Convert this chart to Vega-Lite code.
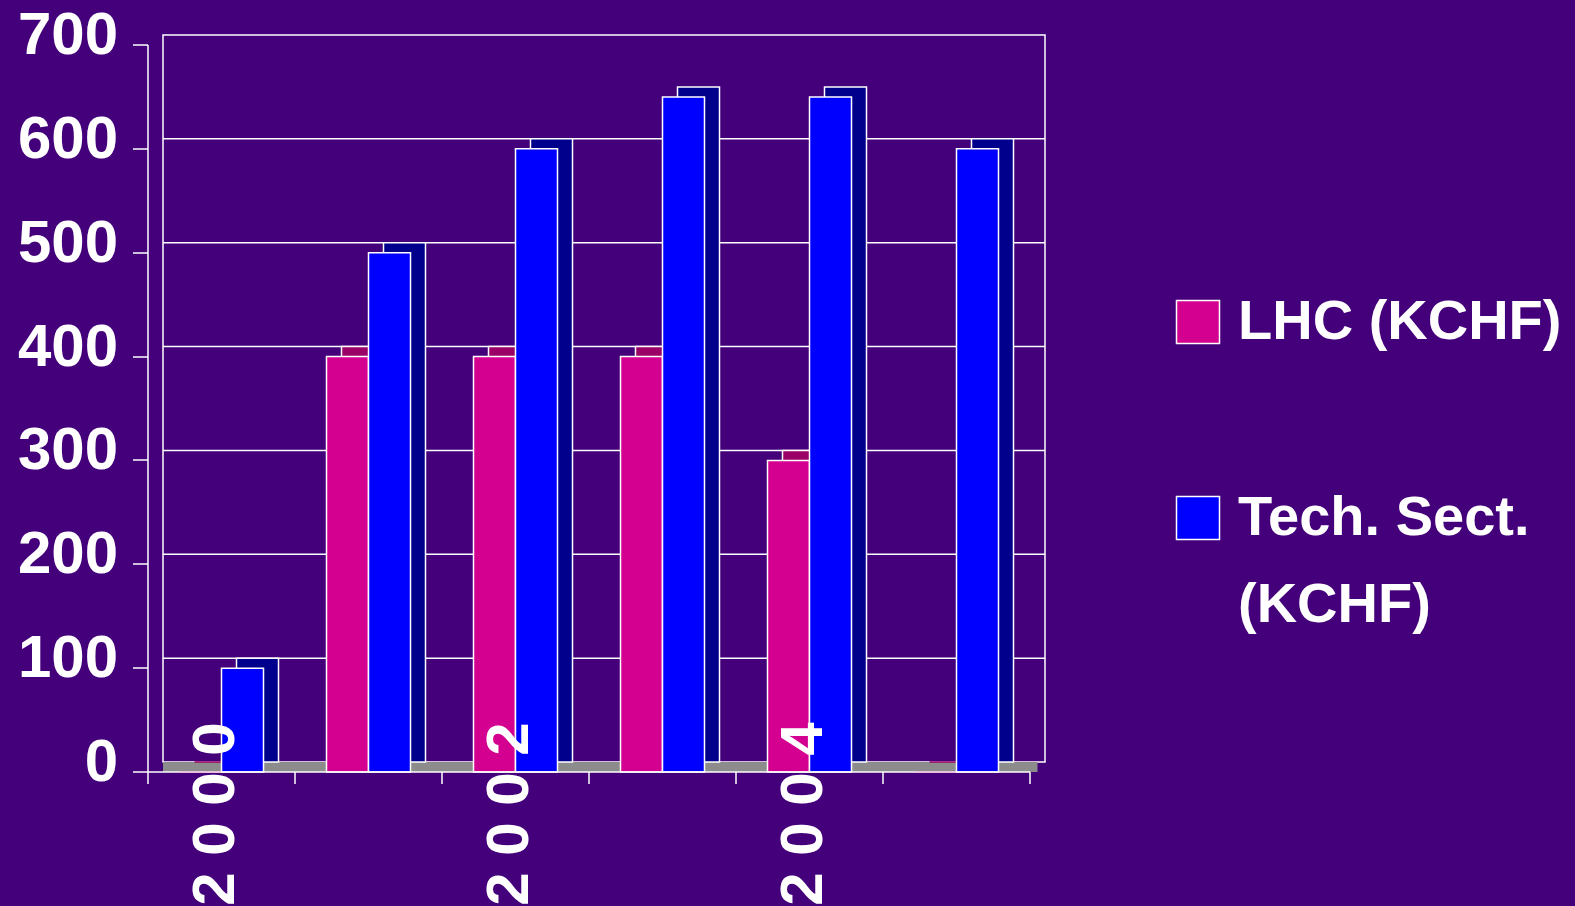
{
  "$schema": "https://vega.github.io/schema/vega-lite/v6.json",
  "autosize": {"type": "none"},
  "width": 882,
  "height": 727,
  "padding": {"left": 163, "top": 35, "right": 530, "bottom": 144},
  "background": "#43007a",
  "datasets": {
    "budget": [
      {"year": "2000", "series": "LHC (KCHF)", "value": 0},
      {"year": "2000", "series": "Tech. Sect. (KCHF)", "value": 100},
      {"year": "2001", "series": "LHC (KCHF)", "value": 400},
      {"year": "2001", "series": "Tech. Sect. (KCHF)", "value": 500},
      {"year": "2002", "series": "LHC (KCHF)", "value": 400},
      {"year": "2002", "series": "Tech. Sect. (KCHF)", "value": 600},
      {"year": "2003", "series": "LHC (KCHF)", "value": 400},
      {"year": "2003", "series": "Tech. Sect. (KCHF)", "value": 650},
      {"year": "2004", "series": "LHC (KCHF)", "value": 300},
      {"year": "2004", "series": "Tech. Sect. (KCHF)", "value": 650},
      {"year": "2005", "series": "LHC (KCHF)", "value": 0},
      {"year": "2005", "series": "Tech. Sect. (KCHF)", "value": 600}
    ],
    "grid": [
      {"value": 100}, {"value": 200}, {"value": 300},
      {"value": 400}, {"value": 500}, {"value": 600}
    ],
    "floor": [{"value": 0}]
  },
  "encoding": {
    "y": {
      "field": "value", "type": "quantitative",
      "scale": {"domain": [0, 700]},
      "axis": {
        "title": null, "grid": false,
        "values": [0, 100, 200, 300, 400, 500, 600, 700],
        "domainColor": "white", "domainWidth": 1.5,
        "tickColor": "white", "tickWidth": 1.5, "tickSize": 15,
        "labelColor": "white", "labelFont": "Liberation Sans", "labelFontWeight": "bold", "labelFontSize": 60,
        "labelPadding": 15, "labelOffset": -9, "labelBaseline": "middle",
        "offset": 25, "translate": 10
      }
    }
  },
  "layer": [
    {
      "data": {"name": "floor"},
      "mark": {"type": "rule", "color": "#8c8c8c", "strokeWidth": 10, "yOffset": 5, "xOffset": -7.5},
      "encoding": {}
    },
    {
      "data": {"name": "grid"},
      "mark": {"type": "rule", "color": "white", "strokeWidth": 1.5},
      "encoding": {}
    },
    {
      "data": {"name": "budget"},
      "mark": {"type": "bar", "strokeWidth": 1.5},
      "encoding": {
        "x": {"field": "year", "type": "nominal", "scale": {"paddingInner": 0, "paddingOuter": 0},
          "axis": {
            "title": null, "grid": false,
            "domainColor": "white", "domainWidth": 1.5,
            "tickColor": "white", "tickWidth": 1.5, "tickSize": 12, "tickBand": "extent",
            "labelAngle": -90, "labelAlign": "center", "labelBaseline": "middle",
            "labelColor": "white", "labelFont": "Liberation Sans", "labelFontWeight": "bold", "labelFontSize": 60,
            "labelPadding": 30, "labelOffset": -6, "labelLimit": 0,
            "labelExpr": "parseInt(datum.label) % 2 == 0 ? slice(datum.label,0,1) + ' ' + slice(datum.label,1,2) + ' ' + slice(datum.label,2,3) + ' ' + slice(datum.label,3,4) : ''",
            "labelOverlap": false, "labelBound": false, "labelFlush": false,
            "offset": 25, "translate": -15, "zindex": 1
          }
        },
        "xOffset": {"field": "series", "type": "nominal", "scale": {"paddingOuter": 0.75, "paddingInner": 0}},
        "fill": {"condition": {"test": "datum.series == 'LHC (KCHF)'", "value": "#9a0066"}, "value": "#00008c"},
        "stroke": {"condition": {"test": "datum.value > 0", "value": "white"}, "value": "#9a0066"}
      }
    },
    {
      "data": {"name": "budget"},
      "mark": {"type": "bar", "strokeWidth": 1.5, "yOffset": 10},
      "encoding": {
        "x": {"field": "year", "type": "nominal"},
        "xOffset": {"field": "series", "type": "nominal", "scale": {"paddingOuter": 0.75, "paddingInner": 0, "range": [-15, 132]}},
        "stroke": {"condition": {"test": "datum.value > 0", "value": "white"}, "value": "#b0007a"},
        "color": {
          "field": "series", "type": "nominal",
          "scale": {"domain": ["LHC (KCHF)", "Tech. Sect. (KCHF)"], "range": ["#d4008f", "#0000ff"]},
          "legend": {
            "orient": "none", "legendX": 1007, "legendY": 259, "title": null, "padding": 0,
            "symbolType": "square", "symbolSize": 1849,
            "symbolStrokeColor": "white", "symbolStrokeWidth": 1.5,
            "labelColor": "white", "labelFont": "Liberation Sans", "labelFontWeight": "bold", "labelFontSize": 56,
            "labelOffset": 12, "labelLimit": 0, "rowPadding": 53,
            "labelExpr": "datum.label == 'Tech. Sect. (KCHF)' ? ['Tech.  Sect.', '(KCHF)'] : [datum.label, ' ']"
          }
        }
      }
    }
  ],
  "resolve": {"scale": {"xOffset": "independent"}},
  "config": {
    "font": "Liberation Sans",
    "view": {"stroke": "white", "strokeWidth": 1.5},
    "style": {"guide-label": {"lineHeight": 87}}
  }
}
